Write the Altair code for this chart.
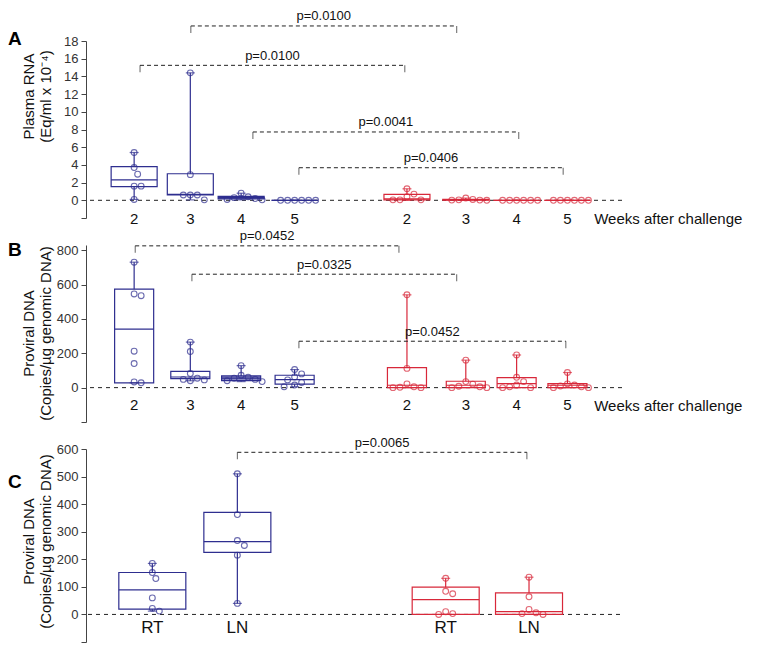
import altair as alt
import pandas as pd
import math

FONT = "Liberation Sans"
BLUE = "#2e2e8f"
RED = "#d8283a"
INK = "#222222"

# ---------------- Panel A: Plasma RNA ----------------
A_pos = [1, 2.05, 3, 4, 6.1, 7.2, 8.15, 9.1]
A_labels = ["2", "3", "4", "5", "2", "3", "4", "5"]
A_series = ["blue"] * 4 + ["red"] * 4
A_points = [
    [5.4, 3.7, 2.95, 1.6, 1.6, 0.1],
    [14.4, 2.9, 0.6, 0.6, 0.6, 0.05],
    [0.8, 0.4, 0.3, 0.2, 0.1, 0.05],
    [0, 0, 0, 0, 0, 0],
    [1.3, 0.7, 0.4, 0.05, 0.05, 0.05],
    [0.25, 0.1, 0.05, 0.02, 0.02, 0],
    [0, 0, 0, 0, 0, 0],
    [0, 0, 0, 0, 0, 0],
]
A_min = [0.1, 0.05, 0.05, 0, 0, 0, 0, 0]
A_q1 = [1.55, 0.6, 0.15, 0, 0.05, 0.02, 0, 0]
A_med = [2.3, 0.68, 0.3, 0, 0.15, 0.05, 0, 0]
A_q3 = [3.8, 3.0, 0.45, 0, 0.68, 0.1, 0, 0]
A_max = [5.4, 14.4, 0.8, 0, 1.3, 0.25, 0, 0]
A_fill = ["transparent", "transparent", "#7a7ab8", "transparent",
          "transparent", "transparent", "transparent", "transparent"]
A_bx1 = [2.06, 1.11, 3.22, 4.08]
A_bx2 = [7.03, 6.06, 8.19, 9.02]
A_by = [19.7, 15.25, 7.72, 3.68]
A_bp = ["p=0.0100", "p=0.0100", "p=0.0041", "p=0.0406"]
A_yvals = [-2, 0, 2, 4, 6, 8, 10, 12, 14, 16, 18]

# ---------------- Panel B: Proviral DNA by week ----------------
B_pos = A_pos
B_labels = A_labels
B_series = A_series
B_points = [
    [730, 545, 535, 212, 140, 33, 28],
    [265, 210, 82, 55, 48, 45, 40],
    [128, 72, 60, 55, 48, 40, 35],
    [105, 80, 62, 45, 30, 15, 5],
    [540, 112, 22, 5, 2, 0, 0],
    [160, 35, 20, 8, 5, 0, 0],
    [190, 60, 35, 15, 5, 0, 0],
    [88, 22, 15, 10, 5, 0, 0],
]
B_min = [28, 40, 35, 5, 0, 0, 0, 0]
B_q1 = [28, 52, 41, 20, 0, 0, 0, 0]
B_med = [340, 62, 55, 47, 14, 14, 23, 14]
B_q3 = [573, 95, 68, 72, 116, 37, 58, 23]
B_max = [730, 265, 128, 105, 540, 160, 190, 88]
B_fill = ["transparent", "transparent", "#8a8ac4", "transparent",
          "transparent", "transparent", "transparent", "transparent"]
B_bx1 = [1.02, 2.08, 4.08]
B_bx2 = [5.95, 7.03, 9.07]
B_by = [825, 660, 270]
B_bp = ["p=0.0452", "p=0.0325", "p=0.0452"]
B_yvals = [-200, 0, 200, 400, 600, 800]

# ---------------- Panel C: Proviral DNA by tissue ----------------
C_pos = [1, 2, 4.45, 5.43]
C_labels = ["RT", "LN", "RT", "LN"]
C_series = ["blue", "blue", "red", "red"]
C_points = [
    [185, 152, 130, 60, 22, 12],
    [510, 362, 268, 250, 215, 40],
    [131, 84, 75, 10, 3, 0],
    [135, 64, 18, 6, 3, 0],
]
C_min = [12, 40, 0, 0]
C_q1 = [19, 225, 0, 0]
C_med = [89, 264, 54, 10]
C_q3 = [152, 370, 99, 78]
C_max = [185, 510, 131, 135]
C_fill = ["transparent"] * 4
C_bx1 = [2.0]
C_bx2 = [5.405]
C_by = [588]
C_bp = ["p=0.0065"]
C_yvals = [-100, 0, 100, 200, 300, 400, 500, 600]

COLOR = alt.Scale(domain=["blue", "red"], range=[BLUE, RED])


def swarm(vals, ky, d=7.0, step=3.5):
    """Simple beeswarm: horizontal pixel offsets so circles don't overlap."""
    placed = []
    off = [0.0] * len(vals)
    order = sorted(range(len(vals)), key=lambda i: -vals[i])
    for i in order:
        yp = vals[i] * ky
        k = 0
        while True:
            cands = [0.0] if k == 0 else [k * step, -k * step]
            ok = None
            for c in cands:
                if all(math.hypot(c - px, yp - py) >= d - 0.01 for px, py in placed):
                    ok = c
                    break
            if ok is not None:
                off[i] = ok
                placed.append((ok, yp))
                break
            k += 1
    return off


def panel(pos, labels, series, points, mins, q1s, meds, q3s, maxs, fills,
          bx1, bx2, by, bp, yvals, xdom, ydom, width, height, half,
          label_dy, label_size, ytitle, title_y, letter, letter_y,
          weeks_x=None, weeks_dy=None):
    kx = width / (xdom[1] - xdom[0])
    ky = height / (ydom[1] - ydom[0])
    xs = alt.Scale(domain=xdom, nice=False, zero=False)
    ys = alt.Scale(domain=ydom, nice=False, zero=False)
    yaxis = alt.Axis(
        values=yvals, labelExpr="datum.value < 0 ? '' : datum.label",
        title=ytitle, titleX=-58, titleY=title_y, titleAngle=-90,
        titleBaseline="middle", titleAlign="center", titleFontSize=15,
        titleFont=FONT, titleFontWeight="normal", titleColor="#111111",
        titleLineHeight=17, labelFontSize=13, labelFont=FONT,
        labelColor="#333333", tickSize=5, tickColor="#444444",
        domainColor="#444444", grid=False, labelPadding=3,
    )

    def X(f):
        return alt.X(f, type="quantitative", scale=xs, axis=None)

    def Y(f):
        return alt.Y(f, type="quantitative", scale=ys, axis=yaxis)

    stroke = alt.Stroke("series:N", scale=COLOR, legend=None)
    color = alt.Color("series:N", scale=COLOR, legend=None)

    box = pd.DataFrame({
        "pos": pos, "series": series, "mn": mins, "q1": q1s, "med": meds,
        "q3": q3s, "mx": maxs, "fill": fills,
    })
    box["lo"] = box["pos"] - half
    box["hi"] = box["pos"] + half

    prow = []
    for i, vals in enumerate(points):
        off = swarm(vals, ky)
        for v, o in zip(vals, off):
            prow.append({"x": pos[i] + o / kx, "v": v, "series": series[i]})
    pts = pd.DataFrame(prow)

    wrow = []
    for i in range(len(pos)):
        wrow.append({"pos": pos[i], "a": mins[i], "b": q1s[i], "series": series[i]})
        wrow.append({"pos": pos[i], "a": q3s[i], "b": maxs[i], "series": series[i]})
    whisk = pd.DataFrame(wrow)

    crow = []
    for i in range(len(pos)):
        crow.append({"pos": pos[i], "v": mins[i], "series": series[i]})
        crow.append({"pos": pos[i], "v": maxs[i], "series": series[i]})
    caps = pd.DataFrame(crow)

    br = pd.DataFrame({"x1": bx1, "x2": bx2, "y": by, "p": bp})
    br["mid"] = (br["x1"] + br["x2"]) / 2
    ends = pd.DataFrame({"x": list(bx1) + list(bx2), "y": list(by) * 2})

    lab = pd.DataFrame({"pos": pos, "label": labels, "y0": [0] * len(pos)})
    zero = pd.DataFrame({"y0": [0]})

    layers = [
        alt.Chart(zero).mark_rule(color=INK, strokeDash=[4, 4], strokeWidth=1)
        .encode(y=Y("y0")),
        alt.Chart(whisk).mark_rule(strokeWidth=1.2)
        .encode(x=X("pos"), y=Y("a"), y2="b", stroke=stroke),
        alt.Chart(box).mark_rect(strokeWidth=1.2)
        .encode(x=X("lo"), x2="hi", y=Y("q1"), y2="q3", stroke=stroke,
                fill=alt.Fill("fill:N", scale=None)),
        alt.Chart(box).mark_rule(strokeWidth=1.2)
        .encode(x=X("lo"), x2="hi", y=Y("med"), stroke=stroke),
        alt.Chart(caps).mark_tick(orient="horizontal", size=9, thickness=1.2)
        .encode(x=X("pos"), y=Y("v"), color=color),
        alt.Chart(pts).mark_point(shape="circle", filled=False, size=34, strokeWidth=1.1)
        .encode(x=X("x"), y=Y("v"), color=color),
        alt.Chart(br).mark_rule(color=INK, strokeDash=[4, 3], strokeWidth=1)
        .encode(x=X("x1"), x2="x2", y=Y("y")),
        alt.Chart(ends).mark_tick(orient="vertical", size=7, thickness=1, color=INK, yOffset=3.5)
        .encode(x=X("x"), y=Y("y")),
        alt.Chart(br).mark_text(dy=-9.5, baseline="middle", fontSize=13, font=FONT, color="#111111")
        .encode(x=X("mid"), y=Y("y"), text="p:N"),
        alt.Chart(lab).mark_text(dy=label_dy, baseline="middle", fontSize=label_size, font=FONT, color="#111111")
        .encode(x=X("pos"), y=Y("y0"), text="label:N"),
        alt.Chart(pd.DataFrame({"t": [letter]})).mark_text(
            align="left", baseline="middle", fontSize=19, fontWeight="bold", font=FONT, color="#000000")
        .encode(x=alt.value(-78), y=alt.value(letter_y), text="t:N"),
    ]
    if weeks_x is not None:
        layers.append(
            alt.Chart(pd.DataFrame({"x": [weeks_x], "y0": [0], "t": ["Weeks after challenge"]}))
            .mark_text(align="left", baseline="middle", dy=weeks_dy, fontSize=15, font=FONT, color="#111111")
            .encode(x=X("x"), y=Y("y0"), text="t:N")
        )
    return alt.layer(*layers).properties(width=width, height=height)


pA = panel(A_pos, A_labels, A_series, A_points, A_min, A_q1, A_med, A_q3, A_max, A_fill,
           A_bx1, A_bx2, A_by, A_bp, A_yvals, [0.1, 10.12], [-2, 18], 536, 177, 0.43,
           19, 15, ["Plasma RNA", "(Eq/ml x 10\u207b\u2074)"], 55, "A", -2,
           weeks_x=9.6, weeks_dy=19)
pB = panel(B_pos, B_labels, B_series, B_points, B_min, B_q1, B_med, B_q3, B_max, B_fill,
           B_bx1, B_bx2, B_by, B_bp, B_yvals, [0.1, 10.12], [-200, 830], 536, 177, 0.365,
           17.5, 15, ["Proviral DNA", "(Copies/\u00b5g genomic DNA)"], 88, "B", 5,
           weeks_x=9.6, weeks_dy=18.6)
pC = panel(C_pos, C_labels, C_series, C_points, C_min, C_q1, C_med, C_q3, C_max, C_fill,
           C_bx1, C_bx2, C_by, C_bp, C_yvals, [0.22, 6.5], [-100, 600], 534, 193, 0.394,
           14, 17, ["Proviral DNA", "(Copies/\u00b5g genomic DNA)"], 92, "C", 33)

chart = (
    alt.vconcat(pA, pB, pC, spacing=27, bounds="flush")
    .properties(padding={"left": 0, "top": 2, "right": 0, "bottom": 0})
    .configure(font=FONT)
    .configure_view(stroke=None, strokeWidth=0)
)

chart.save("out.html", embed_options={"renderer": "svg", "actions": False})
